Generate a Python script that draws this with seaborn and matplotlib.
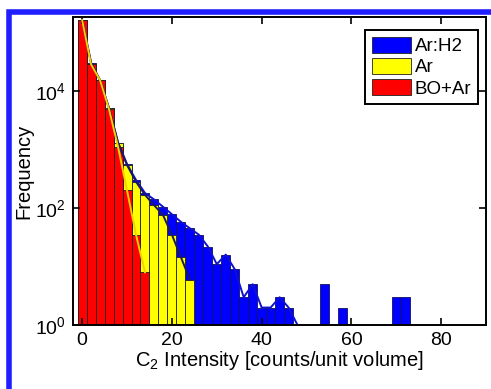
import numpy as np
import pandas as pd
import seaborn as sns
import matplotlib.pyplot as plt
from matplotlib.patches import Patch, Rectangle

# bin centres (width 2) and counts
centers_red = [0, 2, 4, 6, 8, 10, 12, 14]
counts_red = [160000, 28000, 15000, 4800, 1100, 200, 35, 8]

centers_yel = [0, 2, 4, 6, 8, 10, 12, 14, 16, 18, 20, 22, 24]
counts_yel = [160000, 29000, 15000, 5000, 1300, 540, 280, 167, 112, 76, 35, 14.5, 6]

centers_blu = [0, 2, 4, 6, 8, 10, 12, 14, 16, 18, 20, 22, 24, 26, 28, 30, 32,
               34, 36, 38, 40, 42, 44, 46, 48, 50, 54, 58, 70, 72, 80]
counts_blu = [160000, 30000, 15000, 5000, 1300, 560, 300, 180, 140, 105, 78, 58,
              45, 35, 22, 11, 16, 9, 3, 5, 2, 2, 3, 2, 1, 1, 5, 2, 3, 3, 1]

legend_labels = ["Ar:H2", "Ar", "BO+Ar"]
bar_colors = ["#0000ff", "#ffff00", "#ff0000"]
line_colors = ["#1010d0", "#1a1a60", "#f5d000"]

plt.rcParams["font.family"] = ["Liberation Sans", "DejaVu Sans"]
plt.rcParams["mathtext.fontset"] = "custom"
plt.rcParams["mathtext.rm"] = "Liberation Sans"
plt.rcParams["mathtext.it"] = "Liberation Sans"
fig = plt.figure(figsize=(4.91, 3.89), dpi=100)
ax = fig.add_axes([0.149, 0.164, 0.841, 0.792])

sets = [(centers_blu, counts_blu), (centers_yel, counts_yel), (centers_red, counts_red)]
edge_cols = ["#101060", "#202020", "#202020"]
for (c, n), col, ec in zip(sets, bar_colors, edge_cols):
    df = pd.DataFrame({"c": c, "n": n})
    sns.histplot(data=df, x="c", weights="n", binwidth=2, binrange=(-1, max(c) + 1),
                 color=col, alpha=1, edgecolor=ec, linewidth=0.6, ax=ax)
ax.set_yscale("log")

for (c, n), lc in zip(sets, line_colors):
    m = 25 if c is centers_blu else len(c)
    df = pd.DataFrame({"c": c[:m], "n": n[:m]})
    sns.lineplot(data=df, x="c", y="n", color=lc, linewidth=1.4, ax=ax)

ax.set_xlim(-2, 90)
ax.set_ylim(1, 1.8e5)
ax.set_xticks([0, 20, 40, 60, 80])
ax.set_yticks([1, 1e2, 1e4])
ax.set_yticklabels([r"$\mathregular{10^0}$", r"$\mathregular{10^2}$", r"$\mathregular{10^4}$"])
ax.minorticks_off()
ax.tick_params(direction="in", top=True, right=True, length=5, width=1.2,
               labelsize=14, colors="black", pad=5)
for s in ax.spines.values():
    s.set_linewidth(1.4)
    s.set_color("black")
ax.set_xlabel(r"C$_2$ Intensity [counts/unit volume]", fontsize=14.5, labelpad=0)
ax.set_ylabel("Frequency", fontsize=14.5, labelpad=1)

handles = [Patch(facecolor=c, edgecolor="#202020", linewidth=0.6) for c in bar_colors]
leg = ax.legend(handles, legend_labels, loc="upper right", fontsize=13.5,
                fancybox=False, framealpha=1, edgecolor="black",
                handlelength=2.1, handleheight=0.95, handletextpad=0.2,
                labelspacing=0.15, borderpad=0.35, borderaxespad=0,
                bbox_to_anchor=(0.98, 0.958))
leg.get_frame().set_linewidth(1.4)

fig.patches.append(Rectangle((0.019, -0.01), 1.0, 0.979, transform=fig.transFigure,
                             fill=False, edgecolor="#1e1eff", linewidth=4))

fig.savefig("out.png", dpi=100)
